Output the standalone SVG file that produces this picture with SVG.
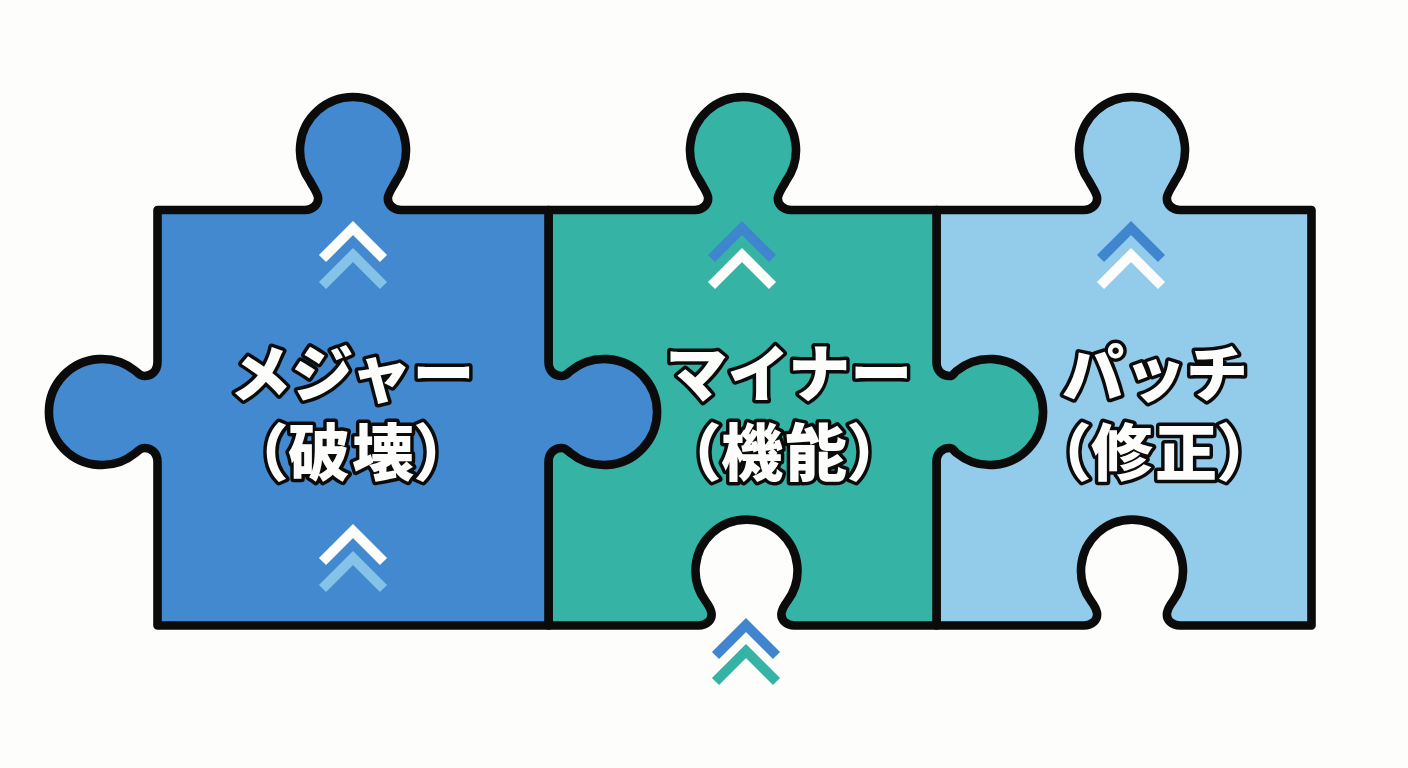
<svg xmlns="http://www.w3.org/2000/svg" width="1408" height="768" viewBox="0 0 1408 768">
  <defs>
    <polyline id="chev" points="-30.5,30.5 0,0 30.5,30.5"/>
  </defs>
  <style>
    .piece { stroke: #0b0b0b; stroke-width: 8.6; stroke-linejoin: round; }
    .label { font-family: "Noto Sans CJK JP", "Noto Sans", sans-serif; font-weight: 900; font-size: 62px; fill: #fdfdfb; stroke: #0b0b0b; stroke-width: 7px; stroke-linejoin: round; paint-order: stroke fill; text-anchor: middle; }
    .paren { font-size: 62px; letter-spacing: 2px; font-feature-settings: "palt"; }
    .chev { fill: none; stroke-width: 10; stroke-linejoin: miter; }
    .white { stroke: #fdfdfb; }
    .sky { stroke: #84c2e8; }
    .blue { stroke: #3f86cf; }
    .teal { stroke: #35b3a5; }
  </style>
  <rect width="1408" height="768" fill="#fdfdfb"/>

  <!-- Pieces are stacked right to left so each right-hand tab sits over its neighbour -->
  <g id="piece-patch">
    <path class="piece" fill="#93cbea" d="M936.5 210 H1084 C1092 210 1098 204 1097 197 C1096 192 1092 187 1089 181 A53 53 0 1 1 1175 181 C1172 187 1168 192 1167 197 C1166 204 1172 210 1180 210 H1311.5 V625.5 H1180 C1172 625.5 1166 620 1167 613 C1167.500 610 1170 605 1173 601 A51 51 0 1 0 1091 601 C1094 605 1096.500 610 1097 613 C1098 620 1092 625.5 1084 625.5 H936.5 Z"/>
    <text class="label" x="1155" y="397">パッチ</text>
    <text class="label paren" x="1155" y="476">（修正）</text>
  </g>

  <g id="piece-minor">
    <path class="piece" fill="#35b3a5" d="M548.5 210 H695 C703 210 709 204 708 197 C707 192 703 187 700 181 A53 53 0 1 1 786 181 C783 187 779 192 778 197 C777 204 783 210 791 210 H936.5 V362 C936.5 372 943.5 376 949.5 376 C953.5 376 952.5 374.300 956.500 371 A53 53 0 1 1 956.500 453 C952.500 449.700 953.5 448 949.5 448 C943.5 448 936.5 452 936.5 462 V625.5 H794.5 C786.500 625.5 780.500 620 781.500 613 C782 610 784.500 605 787.500 601 A51 51 0 1 0 705.500 601 C708.500 605 711 610 711.500 613 C712.500 620 706.500 625.5 698.500 625.5 H548.5 Z"/>
    <text class="label" x="789" y="397">マイナー</text>
    <text class="label paren" x="785" y="476">（機能）</text>
  </g>

  <g id="piece-major">
    <path class="piece" fill="#4289cf" d="M157.5 210 H305 C313 210 319 204 318 197 C317 192 313 187 310 181 A53 53 0 1 1 396 181 C393 187 389 192 388 197 C387 204 393 210 401 210 H548.5 V362 C548.5 372 555.5 376 561.5 376 C565.5 376 566.500 374.300 570.500 371 A53 53 0 1 1 570.500 453 C566.500 449.700 565.5 448 561.5 448 C555.5 448 548.5 452 548.5 462 V625.5 H157.5 V462 C157.5 452 150.5 448 144.5 448 C140.5 448 139.500 449.700 135.500 453 A53 53 0 1 1 135.500 371 C139.500 374.300 140.5 376 144.5 376 C150.5 376 157.5 372 157.5 362 Z"/>
    <text class="label" x="352" y="397">メジャー</text>
    <text class="label paren" x="352" y="476">（破壊）</text>
  </g>

  <!-- Double chevrons pointing up -->
  <g id="chevrons" class="chev">
    <g transform="translate(353 228)"><use href="#chev" class="white"/><use href="#chev" y="27" class="sky"/></g>
    <g transform="translate(353 531)"><use href="#chev" class="white"/><use href="#chev" y="27" class="sky"/></g>
    <g transform="translate(742 228)"><use href="#chev" class="blue"/><use href="#chev" y="27" class="white"/></g>
    <g transform="translate(1131 228)"><use href="#chev" class="blue"/><use href="#chev" y="27" class="white"/></g>
    <g transform="translate(746 625)"><use href="#chev" class="blue"/><use href="#chev" y="26" class="teal"/></g>
  </g>
</svg>
